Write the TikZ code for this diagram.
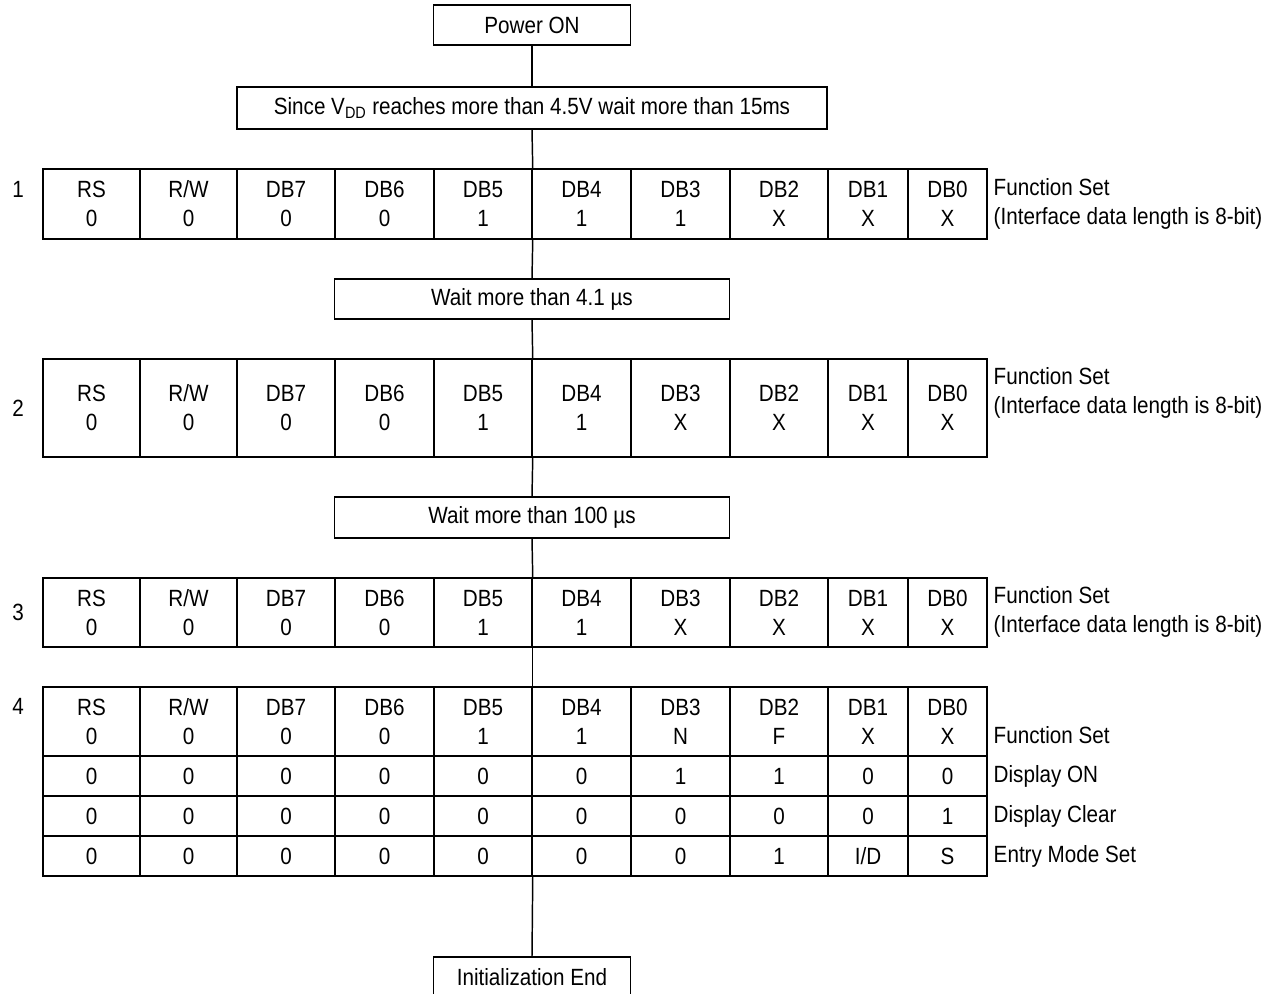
\documentclass[tikz,border=0pt]{standalone}
\usepackage{fontspec}
\setmainfont{Liberation Sans}[FakeStretch=0.88]
\newcommand\topstrut{\rule{0pt}{14pt}}
\newcommand\botstrut{\rule[-1.4pt]{0pt}{1pt}}
\newcommand\fixln[1]{\raisebox{0pt}[14pt][1.4pt]{#1}}
\newcommand\rwtxt{R/W}
\newcommand\idtxt{I/D}
\newcommand\colgeom{%
  \pgfmathsetmacro\colleft{{43,140,237,335,434,532,631,730,828,908}[\i]}%
  \pgfmathsetmacro\colright{{140,237,335,434,532,631,730,828,908,987}[\i]}}
% two-line row: items head/value
\newcommand\tabrowtwo[4]{%
  \foreach \h/\v [count=\i from 0] in {#4}{%
    \colgeom
    \node[cellbox, minimum width={(\colright-\colleft)*0.75pt}, minimum height={#3*0.75pt}]
      (#1c\i) at ({(\colleft+\colright)/2},#2) {\fixln{\h}\\\fixln{\v}};
  }}
% one-line row
\newcommand\tabrowone[4]{%
  \foreach \v [count=\i from 0] in {#4}{%
    \colgeom
    \node[cellbox, minimum width={(\colright-\colleft)*0.75pt}, minimum height={#3*0.75pt}]
      (#1c\i) at ({(\colleft+\colright)/2},#2) {\fixln{\v}};
  }}
\begin{document}
\begin{tikzpicture}[x=0.75pt,y=-0.75pt, line width=1.1pt,
  font=\fontsize{17.6}{21.75}\selectfont,
  flowbox/.style={draw, inner sep=0pt, anchor=center},
  cellbox/.style={draw, inner sep=0pt, align=center},
  lbl/.style={anchor=west, inner sep=0pt, align=left,
    execute at begin node={\topstrut}, execute at end node={\botstrut}},
  num/.style={inner sep=0pt},
  conn/.style={draw, line width=1.1pt}]
\useasboundingbox (0,0) rectangle (1284,993);

% flow boxes
\node[flowbox, minimum width=147.75pt, minimum height=30pt] (pwr) at (532,25) {Power ON};
\node[flowbox, minimum width=442.5pt, minimum height=31.5pt] (since) at (532,108)
  {Since V\textsubscript{DD} reaches more than 4.5V wait more than 15ms};
\node[flowbox, minimum width=296.25pt, minimum height=30pt] (w1) at (532,299) {Wait more than 4.1 µs};
\node[flowbox, minimum width=296.25pt, minimum height=30.75pt] (w2) at (532,517.5) {Wait more than 100 µs};
\node[flowbox, minimum width=147.75pt, minimum height=30pt] (init) at (532,977) {Initialization End};

% tables
\tabrowtwo{r1}{204}{70}{RS/0,\rwtxt/0,DB7/0,DB6/0,DB5/1,DB4/1,DB3/1,DB2/X,DB1/X,DB0/X}
\tabrowtwo{r2}{408}{98}{RS/0,\rwtxt/0,DB7/0,DB6/0,DB5/1,DB4/1,DB3/X,DB2/X,DB1/X,DB0/X}
\tabrowtwo{r3}{612.5}{69}{RS/0,\rwtxt/0,DB7/0,DB6/0,DB5/1,DB4/1,DB3/X,DB2/X,DB1/X,DB0/X}
\tabrowtwo{r4a}{721.5}{69}{RS/0,\rwtxt/0,DB7/0,DB6/0,DB5/1,DB4/1,DB3/N,DB2/F,DB1/X,DB0/X}
\tabrowone{r4b}{776}{40}{0,0,0,0,0,0,1,1,0,0}
\tabrowone{r4c}{816}{40}{0,0,0,0,0,0,0,0,0,1}
\tabrowone{r4d}{856}{40}{0,0,0,0,0,0,0,1,\idtxt,S}

% step numbers
\node[num] (n1) at (18,189) {1};
\node[num] (n2) at (18,408) {2};
\node[num] (n3) at (18,612) {3};
\node[num] (n4) at (18,706) {4};

% labels
\node[lbl] (l1) at (993,204) {Function Set\\(Interface data length is 8-bit)};
\node[lbl] (l2) at (993,392.5) {Function Set\\(Interface data length is 8-bit)};
\node[lbl] (l3) at (993,612) {Function Set\\(Interface data length is 8-bit)};
\node[lbl] (l4a) at (993,735) {Function Set};
\node[lbl] (l4b) at (993,776) {Display ON};
\node[lbl] (l4c) at (993,816) {Display Clear};
\node[lbl] (l4d) at (993,856) {Entry Mode Set};

% connectors
\draw[conn] (pwr.south) -- (since.north);
\draw[conn] (since.south) -- (r1c4.north east);
\draw[conn] (r1c4.south east) -- (w1.north);
\draw[conn] (w1.south) -- (r2c4.north east);
\draw[conn] (r2c4.south east) -- (w2.north);
\draw[conn] (w2.south) -- (r3c4.north east);
\draw[conn] (r3c4.south east) -- (r4ac4.north east);
\draw[conn] (r4dc4.south east) -- (init.north);
\end{tikzpicture}
\end{document}
